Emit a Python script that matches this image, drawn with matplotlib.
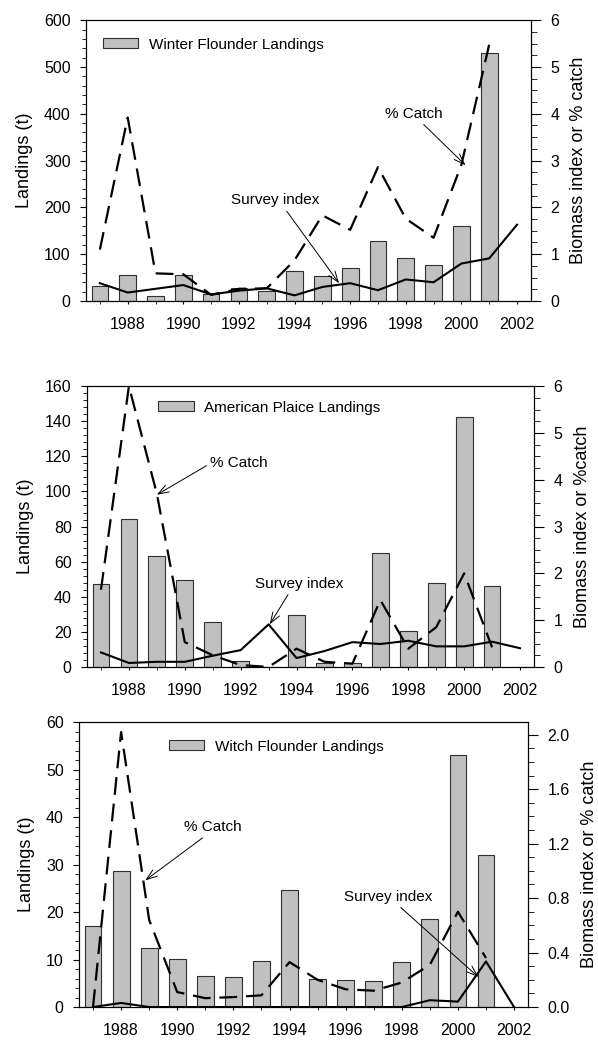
import matplotlib
matplotlib.use("Agg")
from matplotlib import pyplot as plt
from matplotlib.ticker import MultipleLocator
import numpy as np

plt.rcParams['font.family'] = ['Liberation Sans', 'DejaVu Sans']

years = np.arange(1987, 2003)

# winter flounder
wf_landings = [32, 55, 11, 55, 14, 27, 22, 65, 54, 71, 129, 91, 77, 161, 529, 0]
wf_catch = [1.10, 3.92, 0.59, 0.57, 0.13, 0.26, 0.27, 0.87, 1.83, 1.52, 2.86, 1.76, 1.35, 2.91, 5.48]
wf_survey = [0.38, 0.18, 0.26, 0.34, 0.14, 0.22, 0.27, 0.12, 0.30, 0.38, 0.23, 0.46, 0.40, 0.80, 0.91, 1.63]

# american plaice
ap_landings = [47.2, 84.2, 63, 49.3, 25.8, 3.4, 0, 29.4, 2.3, 2.3, 65.1, 20.3, 47.6, 142.7, 46.3, 0]
ap_catch = [1.65, 6.0, 3.70, 0.53, 0.25, 0.04, 0.0, 0.39, 0.11, 0.07, 1.43, 0.39, 0.85, 2.0, 0.42]
ap_survey = [0.31, 0.085, 0.11, 0.11, 0.24, 0.36, 0.91, 0.19, 0.34, 0.53, 0.49, 0.56, 0.44, 0.44, 0.54, 0.40]

# witch flounder
wi_landings = [17.1, 28.6, 12.35, 10.2, 6.6, 6.25, 9.75, 24.7, 5.8, 5.75, 5.5, 9.4, 18.5, 53.1, 32.1, 0]
wi_catch = [0.0, 2.02, 0.64, 0.11, 0.065, 0.073, 0.086, 0.33, 0.20, 0.13, 0.12, 0.18, 0.31, 0.70, 0.36]
wi_survey = [0.0, 0.03, 0.0, 0.0, 0.0, 0.0, 0.0, 0.0, 0.0, 0.0, 0.0, 0.0, 0.05, 0.04, 0.335, 0.0]


def panel(rect, landings, catch, survey, legend_label, ylim, ymaj, ymin_,
          ylim2, y2maj, y2min, y2fmt, right_label, legend_anchor,
          catch_note, survey_note):
    ax = fig.add_axes(rect)
    ax.bar(years, landings, width=0.6, color="#c0c0c0",
           edgecolor="#303030", linewidth=0.8, label=legend_label)
    ax.set_xlim(1986.5, 2002.5)
    ax.set_ylim(*ylim)
    ax.yaxis.set_major_locator(MultipleLocator(ymaj))
    ax.yaxis.set_minor_locator(MultipleLocator(ymin_))
    ax.xaxis.set_major_locator(MultipleLocator(2))
    ax.xaxis.set_minor_locator(MultipleLocator(1))
    ax.tick_params(axis='x', which='both', direction='out', length=2.5, pad=9,
                   labelsize=11.5)
    ax.tick_params(axis='y', which='major', direction='out', length=4, pad=7,
                   labelsize=11.5)
    ax.tick_params(axis='y', which='minor', direction='out', length=3)
    ax.set_ylabel("Landings (t)", fontsize=13, labelpad=8)
    ax.legend(loc='upper left', bbox_to_anchor=legend_anchor, frameon=False,
              fontsize=11, handlelength=2.3, handleheight=0.6,
              handletextpad=0.7, borderaxespad=0)

    ax2 = ax.twinx()
    ax2.plot(years[:len(catch)], catch, color="black", lw=1.6,
             dashes=(8, 4))
    ax2.plot(years, survey, color="black", lw=1.5)
    ax2.set_ylim(*ylim2)
    ax2.yaxis.set_major_locator(MultipleLocator(y2maj))
    ax2.yaxis.set_minor_locator(MultipleLocator(y2min))
    if y2fmt:
        ax2.yaxis.set_major_formatter(y2fmt)
    ax2.tick_params(axis='y', which='major', direction='out', length=7, pad=7,
                    labelsize=11.5)
    ax2.tick_params(axis='y', which='minor', direction='out', length=4)
    ax2.set_ylabel(right_label, fontsize=13, labelpad=8)

    arrow = dict(arrowstyle='->,head_length=0.7,head_width=0.25', lw=0.7,
                 color="black", shrinkA=1, shrinkB=0)
    for txt, xy, xytext, rel in (catch_note, survey_note):
        ax2.annotate(txt, xy=xy, xytext=xytext, ha='center', va='center',
                     fontsize=11, arrowprops=dict(arrow, relpos=rel))
    return ax, ax2


fig = plt.figure(figsize=(5.98, 10.4), dpi=100)

panel([0.1438, 0.7106, 0.744, 0.270], wf_landings, wf_catch, wf_survey,
      "Winter Flounder Landings", (0, 600), 100, 20, (0, 6), 1, 0.25, None,
      "Biomass index or % catch", (0.025, 0.96),
      ("% Catch", (2000.15, 2.9), (1998.3, 4.0), (0.6, 0.0)),
      ("Survey index", (1995.6, 0.38), (1993.3, 2.15), (0.6, 0.0)))

panel([0.1455, 0.3587, 0.7475, 0.270], ap_landings, ap_catch, ap_survey,
      "American Plaice Landings", (0, 160), 20, 4, (0, 6), 1, 0.25, None,
      "Biomass index or %catch", (0.146, 0.97),
      ("% Catch", (1989.0, 3.68), (1991.95, 4.35), (0.0, 0.5)),
      ("Survey index", (1993.04, 0.91), (1994.1, 1.78), (0.4, 0.0)))

panel([0.1321, 0.0317, 0.751, 0.274], wi_landings, wi_catch, wi_survey,
      "Witch Flounder Landings", (0, 60), 10, 2, (0, 2.093), 0.4, 0.1,
      "{x:.1f}", "Biomass index or % catch", (0.187, 0.96),
      ("% Catch", (1988.86, 0.93), (1991.28, 1.32), (0.4, 0.0)),
      ("Survey index", (2000.73, 0.22), (1997.5, 0.81), (0.6, 0.0)))

fig.savefig("out.png", dpi=100)
